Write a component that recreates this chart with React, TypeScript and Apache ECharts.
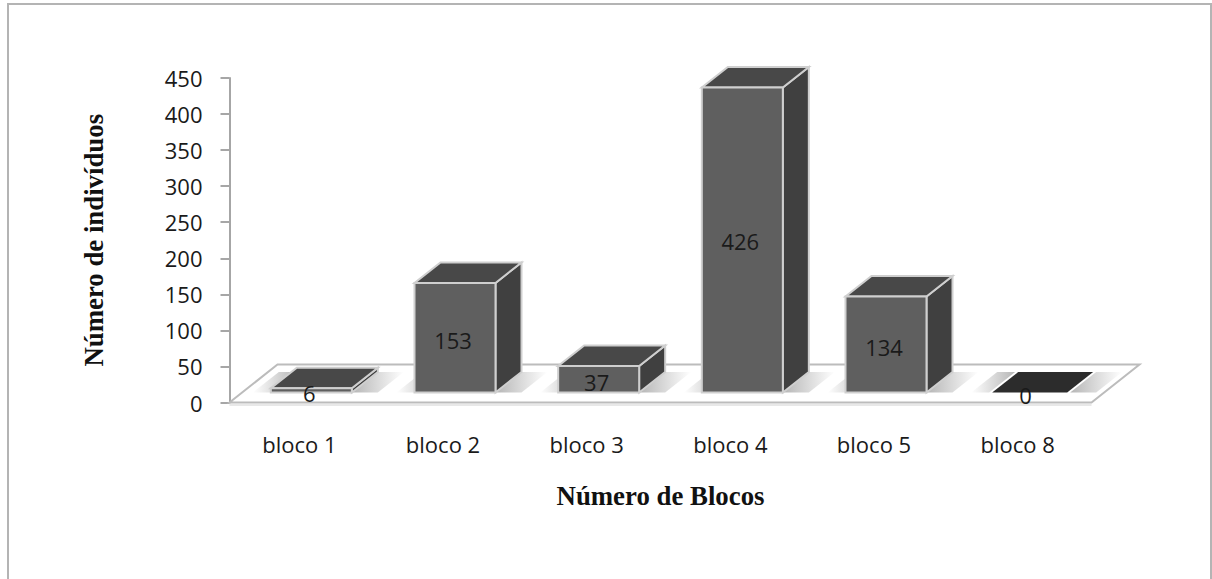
import React, { useEffect, useRef } from "react";
import * as echarts from "echarts";

const categories = ["bloco 1", "bloco 2", "bloco 3", "bloco 4", "bloco 5", "bloco 8"];
const values = [6, 153, 37, 426, 134, 0];
const yTitle = "Número de indivíduos";
const xTitle = "Número de Blocos";

const BAR_W = 81, DX = 26, DY = -20.5, SHIFT_X = 10, BASE_UP = 10, BAR_SCALE = 0.993;
const FLOOR_DX = 48, FLOOR_DY = -38;

const poly = (points: number[][], fill: any, stroke?: string, lineWidth = 2) => ({
  type: "polygon",
  shape: { points },
  style: { fill, stroke: stroke || "none", lineWidth, lineJoin: "miter" },
});

const grad = (fromLeft: string, toRight: string) =>
  new echarts.graphic.LinearGradient(0, 0, 1, 0, [
    { offset: 0, color: fromLeft },
    { offset: 1, color: toRight },
  ]);

const renderFloor = (_p: any, api: any) => {
  const band = api.size([1, 0])[0];
  const a = api.coord([0, 0]);
  const b = api.coord([categories.length - 1, 0]);
  const x0 = a[0] - band / 2;
  const x1 = b[0] + band / 2;
  const y = a[1];
  const pts = [
    [x0, y],
    [x1, y],
    [x1 + FLOOR_DX, y + FLOOR_DY],
    [x0 + FLOOR_DX, y + FLOOR_DY],
  ];
  return {
    type: "group",
    children: [
      { type: "line", shape: { x1: x0, y1: y + 2.5, x2: x1, y2: y + 2.5 }, style: { stroke: "#e8e8e8", lineWidth: 2 } },
      poly(pts, "#ffffff", "#bcbcbc", 2),
    ],
  };
};

const renderShadow = (_p: any, api: any) => {
  const c = api.coord([api.value(0), 0]);
  const cx = c[0] + SHIFT_X;
  const y = c[1] - BASE_UP;
  const l = cx - BAR_W / 2;
  const r = cx + BAR_W / 2;
  const lw = 18, rw = 26;
  return {
    type: "group",
    children: [
      poly([[l - lw, y], [l, y], [l + DX, y + DY], [l + DX - lw, y + DY]], grad("rgba(150,150,150,0)", "rgba(150,150,150,0.7)")),
      poly([[r, y], [r + rw, y], [r + DX + rw, y + DY], [r + DX, y + DY]], grad("rgba(150,150,150,0.7)", "rgba(150,150,150,0)")),
    ],
  };
};

const renderBar = (_p: any, api: any) => {
  const i = api.value(0);
  const v = api.value(1);
  const c0 = api.coord([i, 0]);
  const c1 = api.coord([i, v]);
  const mid = api.coord([i, v / 2]);
  const cx = c0[0] + SHIFT_X;
  const base = c0[1] - BASE_UP;
  const top = base - (c0[1] - c1[1]) * BAR_SCALE;
  const flat = v === 0;
  const inset = flat ? 3 : 0;
  const l = cx - BAR_W / 2 + inset;
  const r = cx + BAR_W / 2 - inset;
  const children: any[] = [];
  if (flat) {
    children.push(poly([[l, top], [r, top], [r + DX, top + DY], [l + DX, top + DY]], "#2c2c2c"));
  } else {
    const edge = "#cfcfcf";
    children.push(poly([[r, top], [r + DX, top + DY], [r + DX, base + DY], [r, base]], "#404040", edge));
    children.push(poly([[l, top], [r, top], [r + DX, top + DY], [l + DX, top + DY]], "#484848", edge));
    children.push(poly([[l, top], [r, top], [r, base], [l, base]], "#5f5f5f", edge));
  }
  children.push({
    type: "text",
    x: cx - (flat ? 4 : 2),
    y: mid[1] - 7.5,
    style: {
      text: String(v),
      fill: "#1a1a1a",
      font: '22px "Open Sans"',
      align: "center",
      verticalAlign: "middle",
    },
  });
  return { type: "group", children };
};

export default function App() {
  const ref = useRef<HTMLDivElement>(null);
  useEffect(() => {
    const chart = echarts.init(ref.current!, undefined, { renderer: "svg" });
    const data = values.map((v, i) => [i, v]);
    chart.setOption({
      animation: false,
      backgroundColor: "#ffffff",
      graphic: [
        {
          type: "rect",
          shape: { x: 8, y: 4, width: 1203, height: 600 },
          style: { fill: "none", stroke: "#b4b4b4", lineWidth: 2 },
          silent: true,
        },
      ],
      grid: { left: 229.5, top: 78, width: 862, height: 324.5 },
      xAxis: {
        type: "category",
        data: categories,
        axisLine: { show: false },
        axisTick: { show: false },
        axisLabel: { margin: 30, color: "#1a1a1a", fontFamily: "Open Sans", fontSize: 22, interval: 0, padding: [0, 4, 0, 0] },
        name: xTitle,
        nameLocation: "middle",
        nameGap: 80,
        nameTextStyle: { fontFamily: "Liberation Serif", fontWeight: "bold", fontSize: 26.8, color: "#111" },
      },
      yAxis: {
        type: "value",
        min: 0,
        max: 450,
        interval: 50,
        splitLine: { show: false },
        axisLine: { show: true, lineStyle: { color: "#a6a6a6", width: 2 } },
        axisTick: { show: true, length: 9, lineStyle: { color: "#a6a6a6", width: 2 } },
        axisLabel: { margin: 27, color: "#1a1a1a", fontFamily: "Open Sans", fontSize: 22 },
        name: yTitle,
        nameLocation: "middle",
        nameRotate: 90,
        nameGap: 122,
        nameTextStyle: { fontFamily: "Liberation Serif", fontWeight: "bold", fontSize: 26.8, color: "#111" },
      },
      series: [
        { type: "custom", z: 1, clip: false, silent: true, data: [[0, 0]], encode: { x: 0, y: 1 }, renderItem: renderFloor },
        { type: "custom", z: 2, clip: false, silent: true, data, encode: { x: 0, y: 1 }, renderItem: renderShadow },
        { type: "custom", z: 3, clip: false, silent: true, data, encode: { x: 0, y: 1 }, renderItem: renderBar },
      ],
    });
    return () => chart.dispose();
  }, []);
  return <div ref={ref} style={{ position: "absolute", left: 0, top: 0, width: 1212, height: 579 }} />;
}
